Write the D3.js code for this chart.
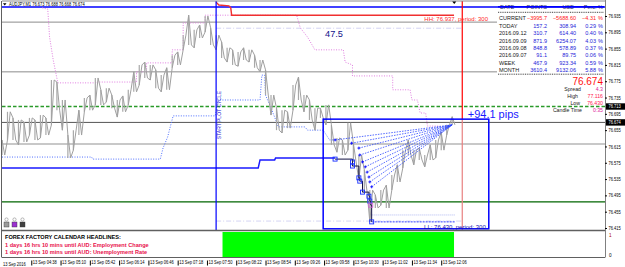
<!DOCTYPE html>
<html>
<head>
<meta charset="utf-8">
<script src="https://cdn.jsdelivr.net/npm/d3@7"></script>
<style>
  body { margin: 0; background: #fff; }
  svg { display: block; }
  text { font-family: "Liberation Sans", Arial, sans-serif; }
  .ax text { font-size: 4.8px; fill: #000; }
  .ax line { stroke: #000; }
</style>
</head>
<body>
<svg id="chart" width="625" height="267"></svg>
<script>
const parseT = d3.timeParse("%H:%M");
const fmtT = d3.timeFormat("%H:%M");
const NARROW = "scale(0.84,1)";

// M1 bars, sampled every 6 minutes from 04:06
const barStart = "04:06";
const barStepMin = 6;
const barHigh = [76.631,76.700,76.685,76.680,76.675,76.685,76.680,76.692,76.685,76.778,
  76.773,76.729,76.643,76.655,76.704,76.734,76.741,76.783,76.754,76.758,
  76.741,76.729,76.739,76.754,76.798,76.815,76.822,76.815,76.803,76.790,
  76.808,76.839,76.847,76.888,76.937,76.901,76.913,76.935,76.906,76.888,
  76.871,76.857,76.852,76.847,76.857,76.852,76.839,76.827,76.803,76.741,
  76.709,76.704,76.700,76.766,76.785,76.741,76.729,76.709,76.709,76.717,
  76.668,76.636,76.631,76.673,76.623,76.594,76.557,76.508,76.496,76.508,
  76.520,76.545,76.570,76.606,76.631,76.606,76.611,76.594,76.619,76.631,
  76.650,76.668,76.688];
const barLow = [76.594,76.631,76.631,76.619,76.626,76.643,76.631,76.636,76.643,76.668,
  76.704,76.655,76.587,76.606,76.643,76.700,76.704,76.717,76.717,76.724,
  76.709,76.687,76.700,76.717,76.749,76.766,76.783,76.778,76.758,76.749,
  76.754,76.808,76.815,76.852,76.864,76.857,76.881,76.896,76.864,76.852,
  76.832,76.822,76.815,76.812,76.827,76.822,76.808,76.798,76.741,76.692,
  76.655,76.648,76.660,76.704,76.729,76.700,76.680,76.655,76.685,76.668,
  76.619,76.601,76.594,76.606,76.577,76.533,76.503,76.430,76.464,76.471,
  76.464,76.508,76.528,76.562,76.594,76.570,76.582,76.565,76.582,76.587,
  76.606,76.643,76.668];

// indicator lines (time, price)
const upperChannel = [["04:50",76.955],["04:56",76.952],["04:58",76.883],["05:02",76.827],["05:07",76.771],
  ["05:50",76.771],["05:50",76.773],["06:33",76.773],["06:33",76.798],["06:44",76.798],["06:44",76.820],
  ["07:12",76.820],["07:12",76.852],["07:24",76.852],["07:24",76.918],["07:48",76.918],["07:48",76.937],
  ["09:28",76.937],["09:32",76.906],["09:40",76.883],["09:48",76.852],["10:19",76.852],["10:21",76.822],
  ["10:29",76.815],["10:29",76.788],["11:13",76.788],["11:13",76.754],["11:32",76.754],["11:34",76.729],
  ["11:40",76.729],["11:43",76.697],["11:49",76.697],["11:51",76.665],["12:05",76.665]];
const lowerChannel = [["04:06",76.589],["05:44",76.589],["05:45",76.584],["06:59",76.584],["07:02",76.611],
  ["07:07",76.638],["07:13",76.690],["07:59",76.690],["08:02",76.729],["08:48",76.729],["08:50",76.790],
  ["08:53",76.790],["08:54",76.741],["09:01",76.704],["09:08",76.663],["09:37",76.663],["09:40",76.655],
  ["09:57",76.655],["10:04",76.631],["10:10",76.631]];
const supportLine = [["04:06",76.562],["08:46",76.562],["08:48",76.582],["09:04",76.582],["09:05",76.587],["10:10",76.587]];
const hhLine = [["08:00",76.969],["08:03",76.962],["08:14",76.960],["08:16",76.955],["08:17",76.937],["12:20",76.937]];

const pivotTimes = ["10:10","10:29","10:29","10:36","10:37","10:40","10:47","10:48","10:49","10:50"];
const pivotPrices = [76.584,76.577,76.567,76.538,76.530,76.503,76.493,76.481,76.471,76.430];
const fanTimes = ["10:10","10:28","10:36","10:37","10:40","10:43","10:45","10:47","10:48","10:50"];
const fanPrices = [76.631,76.623,76.611,76.594,76.577,76.565,76.552,76.540,76.528,76.516];
const fanEnd = ["12:18",76.668];

const hhLevel = 76.937, llLevel = 76.430, llShadow = 76.447;
const llRange = ["10:50","12:21"];
const fiboLevels = [76.905, 76.432];
const fiboRange = ["08:00","12:29"];
const boxTimes = ["09:57","12:58"];
const boxPrices = [76.682, 76.413];
const startTime = "08:00", endTime = "12:29";
const levelPrices = [76.957, 76.920, 76.798, 76.713, 76.674, 76.621, 76.479];
const markedPrices = [76.713, 76.674];

const priceTicks = [76.935,76.895,76.855,76.815,76.775,76.735,76.695,76.655,76.615,76.575,76.535,76.495,76.455,76.415];
const timeTicks = ["04:38","05:10","05:42","06:14","06:46","07:18","07:50","08:22","08:54","09:26","09:58","10:30","11:02","11:34","12:06"];

const subStart = "08:07", subEnd = "12:20";

const rowLabels = ["CURRENT","TODAY","2016.09.12","2016.09.09","2016.09.08","2016.09.07","WEEK","MONTH"];
const rowPoints = [-3995.7,157.2,310.7,871.9,848.8,91.1,467.9,3610.4];
const rowUsd = [-5688.60,308.94,614.40,6254.07,578.89,89.75,923.34,9132.06];
const rowPerc = [-4.31,0.29,0.40,4.03,0.37,0.06,0.59,5.88];
const infoLabels = ["Spread","High","Low","Candle Time"];
const infoValues = ["4.3","77.116","76.430","0:35"];
const headlines = ["1 days 16 hrs 10 mins until AUD: Employment Change",
                   "1 days 16 hrs 10 mins until AUD: Unemployment Rate"];

// ---------- scales ----------
const plotL = 2, plotR = 605, plotT = 1, plotB = 230;
const x = d3.scaleTime().domain([parseT("04:06"), parseT("15:05")]).range([plotL, plotR]);
const y = d3.scaleLinear().domain([76.415, 76.935]).range([228, 16]);
const ySub = d3.scaleLinear().domain([0, 1]).range([257, 232]);
const tx = s => x(parseT(s));

const svg = d3.select("#chart");
svg.append("rect").attr("width", 625).attr("height", 267).attr("fill", "#fff");

svg.append("clipPath").attr("id", "plot")
  .append("rect").attr("x", plotL).attr("y", plotT).attr("width", plotR - plotL).attr("height", plotB - plotT);
const g = svg.append("g").attr("clip-path", "url(#plot)");

// ---------- horizontal levels ----------
const levelStyle = [
  {c: "#0000ff", w: 1.6}, {c: "#8c8c8c", w: 1}, {c: "#8c8c8c", w: 1},
  {c: "#2a9a2a", w: 1.3, d: "3.5,2"}, {c: "#555", w: 1}, {c: "#c8c8c8", w: 1.8}, {c: "#006400", w: 1.2}
];
g.selectAll(".lvl").data(levelPrices).join("line")
  .attr("x1", plotL).attr("x2", plotR)
  .attr("y1", d => y(d)).attr("y2", d => y(d))
  .attr("stroke", (d, i) => levelStyle[i].c)
  .attr("stroke-width", (d, i) => levelStyle[i].w)
  .attr("stroke-dasharray", (d, i) => levelStyle[i].d || null);

// faint dash-dot levels
g.selectAll(".fib").data(fiboLevels).join("line")
  .attr("x1", tx(fiboRange[0])).attr("x2", tx(fiboRange[1]))
  .attr("y1", d => y(d)).attr("y2", d => y(d))
  .attr("stroke", "#c8c8f0").attr("stroke-width", 0.8).attr("stroke-dasharray", "5,2,1,2");

const lineGen = d3.line().x(d => tx(d[0])).y(d => y(d[1]));

// channels
g.append("path").attr("d", lineGen(upperChannel)).attr("fill", "none")
  .attr("stroke", "#e07ee0").attr("stroke-width", 1).attr("stroke-dasharray", "1,1.5");
g.append("path").attr("d", lineGen(lowerChannel)).attr("fill", "none")
  .attr("stroke", "#5070ff").attr("stroke-width", 1).attr("stroke-dasharray", "1,1.5");
g.append("path").attr("d", lineGen(supportLine)).attr("fill", "none")
  .attr("stroke", "#1a1aff").attr("stroke-width", 1.5);

// ---------- price bars ----------
const bars = barHigh.map((h, i) => ({
  t: d3.timeMinute.offset(parseT(barStart), i * barStepMin), h, l: barLow[i]
}));
const zig = [];
bars.forEach((b, i) => {
  const mid = d3.timeMinute.offset(b.t, barStepMin / 2);
  if (i % 2 === 0) { zig.push([x(b.t), y(b.h)], [x(mid), y(b.l)]); }
  else { zig.push([x(b.t), y(b.l)], [x(mid), y(b.h)]); }
});
g.selectAll(".bar").data(bars).join("line")
  .attr("x1", d => x(d.t)).attr("x2", d => x(d.t))
  .attr("y1", d => y(d.h)).attr("y2", d => y(d.l))
  .attr("stroke", "#a8a8a8").attr("stroke-width", 1.2);
g.append("path").attr("d", d3.line()(zig)).attr("fill", "none")
  .attr("stroke", "#a0a0a0").attr("stroke-width", 1);

// ---------- HH / LL ----------
g.append("path").attr("d", lineGen(hhLine)).attr("fill", "none")
  .attr("stroke", "#f03030").attr("stroke-width", 1.4);
g.append("line").attr("x1", tx(llRange[0])).attr("x2", tx(llRange[1]))
  .attr("y1", y(llShadow)).attr("y2", y(llShadow))
  .attr("stroke", "#b0b8f0").attr("stroke-width", 1).attr("stroke-dasharray", "1,1");
g.append("line").attr("x1", tx(llRange[0])).attr("x2", tx(llRange[1]))
  .attr("y1", y(llLevel)).attr("y2", y(llLevel))
  .attr("stroke", "#3040ff").attr("stroke-width", 1).attr("stroke-dasharray", "2,1");

// ---------- vertical lines ----------
g.append("line").attr("x1", tx(startTime)).attr("x2", tx(startTime))
  .attr("y1", plotT).attr("y2", plotB).attr("stroke", "#0000ff").attr("stroke-width", 1.2);
g.append("line").attr("x1", tx(endTime)).attr("x2", tx(endTime))
  .attr("y1", plotT).attr("y2", y(boxPrices[0])).attr("stroke", "#ff0000").attr("stroke-width", 1.2);
g.append("line").attr("x1", tx(endTime)).attr("x2", tx(endTime))
  .attr("y1", y(boxPrices[0])).attr("y2", plotB).attr("stroke", "#e88080").attr("stroke-width", 1.2);

// ---------- box ----------
g.append("rect")
  .attr("x", tx(boxTimes[0])).attr("y", y(boxPrices[0]))
  .attr("width", tx(boxTimes[1]) - tx(boxTimes[0]))
  .attr("height", y(boxPrices[1]) - y(boxPrices[0]))
  .attr("fill", "none").attr("stroke", "#0000ff").attr("stroke-width", 1.5);

// fan lines
g.selectAll(".fan").data(fanTimes).join("line")
  .attr("x1", d => tx(d)).attr("y1", (d, i) => y(fanPrices[i]))
  .attr("x2", tx(fanEnd[0])).attr("y2", y(fanEnd[1]))
  .attr("stroke", "#2844ff").attr("stroke-width", 0.8).attr("stroke-dasharray", "1.5,1.2");
g.selectAll(".plus").data(fanTimes).join("path")
  .attr("d", (d, i) => { const px = tx(d), py = y(fanPrices[i]); return `M${px-1.5},${py}H${px+1.5}M${px},${py-1.5}V${py+1.5}`; })
  .attr("stroke", "#0000ff").attr("stroke-width", 0.8);

// pivot step line + squares
const piv = pivotTimes.map((t, i) => [tx(t), y(pivotPrices[i])]);
g.append("path").attr("d", d3.line().curve(d3.curveStepAfter)(piv)).attr("fill", "none")
  .attr("stroke", "#101040").attr("stroke-width", 1);
g.selectAll(".sq").data(piv).join("rect")
  .attr("x", d => d[0] - 2).attr("y", d => d[1] - 2).attr("width", 4).attr("height", 4)
  .attr("fill", "none").attr("stroke", (d, i) => i === 8 ? "#d060d0" : "#1830ff").attr("stroke-width", 0.9);

// ---------- annotations ----------
g.append("text").attr("x", tx("12:20") + 34).attr("y", y(hhLevel) + 5.5)
  .attr("text-anchor", "end").attr("font-size", 6).attr("fill", "#ff2a2a")
  .text(`HH: ${hhLevel.toFixed(3)}, period: 300`);
g.append("text").attr("x", tx(boxTimes[1]) - 3).attr("y", y(llLevel) + 7)
  .attr("text-anchor", "end").attr("font-size", 6).attr("fill", "#1010b0")
  .text(`LL: ${llLevel.toFixed(3)}, period: 300`);
g.append("text").attr("x", tx("10:10") - 10).attr("y", y(76.891) + 3.5)
  .attr("font-size", 9.2).attr("fill", "#10108c").text("47.5");
g.append("text").attr("x", tx("12:35")).attr("y", y(76.694) + 4)
  .attr("font-size", 11).attr("fill", "#1a1aff").text("+94.1 pips");
g.append("text").attr("transform", `translate(${tx(startTime) + 4.8},${y(76.692)}) rotate(-90)`)
  .attr("text-anchor", "middle").attr("font-size", 5).attr("fill", "#2020d0").text("START PLOT CYCLE");

// ---------- info table ----------
svg.append("rect").attr("x", 497).attr("y", 9).attr("width", 108).attr("height", 67).attr("fill", "#fff");
const hdr = [["DATE", 500, "start"], ["POINTS", 547, "end"], ["USD", 574, "end"], ["Perc. %", 603, "end"]];
svg.selectAll(".hdr").data(hdr).join("text")
  .attr("x", d => d[1]).attr("y", 8.6).attr("text-anchor", d => d[2])
  .attr("font-size", 5.5).attr("fill", "#1a1a60").text(d => d[0]);
svg.append("line").attr("x1", 498).attr("x2", 604).attr("y1", 6.8).attr("y2", 6.8)
  .attr("stroke", "#0000ff").attr("stroke-width", 1.6);
[12.3, 74.2].forEach(v => svg.append("line").attr("x1", 498).attr("x2", 604).attr("y1", v).attr("y2", v)
  .attr("stroke", "#303030").attr("stroke-width", 0.9).attr("stroke-dasharray", "1,0.8"));

const rowG = svg.selectAll(".row").data(rowLabels).join("g")
  .attr("transform", (d, i) => `translate(0,${20.3 + i * 7.4})`);
const rowColor = i => i === 0 ? "#ff2020" : "#2424d8";
rowG.append("text").attr("x", 499).attr("font-size", 5.5).attr("fill", "#202020").text(d => d);
rowG.append("text").attr("x", 547).attr("text-anchor", "end").attr("font-size", 5.5)
  .attr("fill", (d, i) => rowColor(i)).text((d, i) => d3.format(".1f")(rowPoints[i]));
rowG.append("text").attr("x", 576).attr("text-anchor", "end").attr("font-size", 5.5)
  .attr("fill", (d, i) => rowColor(i)).text((d, i) => d3.format(".2f")(rowUsd[i]));
rowG.append("text").attr("x", 596).attr("text-anchor", "end").attr("font-size", 5.5)
  .attr("fill", (d, i) => rowColor(i)).text((d, i) => d3.format(".2f")(rowPerc[i]));
rowG.append("text").attr("x", 603).attr("text-anchor", "end").attr("font-size", 5.5)
  .attr("fill", (d, i) => rowColor(i)).text("%");

svg.append("text").attr("x", 603).attr("y", 85).attr("text-anchor", "end")
  .attr("font-size", 10).attr("fill", "#ff1010").text("76.674");
const infoX = [581, 578, 580, 582];
const infoY = [91, 98, 105, 112];
infoLabels.forEach((lab, i) => {
  svg.append("text").attr("x", infoX[i]).attr("y", infoY[i]).attr("text-anchor", "end")
    .attr("font-size", 5.2).attr("fill", "#202020").text(lab);
  svg.append("text").attr("x", 603).attr("y", infoY[i]).attr("text-anchor", "end")
    .attr("font-size", 5.2).attr("fill", i === 0 || i === 3 ? "#e0209a" : "#ff2050").text(infoValues[i]);
});

// ---------- sub window ----------
svg.append("rect").attr("x", tx(subStart)).attr("y", ySub(1)).attr("width", tx(subEnd) - tx(subStart))
  .attr("height", ySub(0) - ySub(1)).attr("fill", "#00ff00");
svg.append("text").attr("x", 5).attr("y", 239.3).attr("font-size", 5.6).attr("font-weight", "bold")
  .attr("fill", "#000").text("FOREX FACTORY CALENDAR  HEADLINES:");
svg.selectAll(".hl").data(headlines).join("text")
  .attr("x", 5).attr("y", (d, i) => 246.8 + i * 7.2).attr("font-size", 5.6).attr("font-weight", "bold")
  .attr("fill", "#e8104c").text(d => d);

// ---------- frame ----------
svg.append("line").attr("x1", plotL).attr("x2", plotR).attr("y1", 1).attr("y2", 1).attr("stroke", "#8c8c8c");
svg.append("line").attr("x1", plotL).attr("x2", plotR).attr("y1", 230.5).attr("y2", 230.5).attr("stroke", "#606060").attr("stroke-width", 1.4);
svg.append("line").attr("x1", plotL).attr("x2", plotR).attr("y1", 257.5).attr("y2", 257.5).attr("stroke", "#606060");
svg.append("line").attr("x1", plotL - 0.5).attr("x2", plotL - 0.5).attr("y1", 1).attr("y2", 257.5).attr("stroke", "#606060");
svg.append("line").attr("x1", plotR + 0.5).attr("x2", plotR + 0.5).attr("y1", 0).attr("y2", 257.5).attr("stroke", "#808080");

// top markers
svg.append("path").attr("d", "M3,3.2L6.5,3.2L4.75,5.5Z").attr("fill", "#000");
svg.append("path").attr("d", `M${tx(endTime) - 10},1.5L${tx(endTime) - 6},1.5L${tx(endTime) - 8},4Z`).attr("fill", "#000");
svg.append("text").attr("transform", `translate(9,5.8) ${NARROW}`).attr("font-size", 4.8)
  .text("AUDJPY,M1  76.673 76.688 76.668 76.674");

// small buttons
[4, 12, 20].forEach((bx, i) => {
  svg.append("circle").attr("cx", bx + 2.5).attr("cy", 219.5).attr("r", 1.6).attr("fill", "none").attr("stroke", "#888").attr("stroke-width", 0.6);
  svg.append("rect").attr("x", bx).attr("y", 222).attr("width", 5).attr("height", 5)
    .attr("fill", ["#9a9a9a", "#9b30d0", "#404040"][i]).attr("stroke", "#333").attr("stroke-width", 0.4);
});

// ---------- axes ----------
const yAxis = svg.append("g").attr("class", "ax").attr("transform", `translate(${plotR},0)`)
  .call(d3.axisRight(y).tickValues(priceTicks).tickFormat(d3.format(".3f")).tickSize(2).tickPadding(1.5));
yAxis.select(".domain").remove();
yAxis.selectAll(".tick text").attr("x", 0).attr("transform", `translate(3.5,0) ${NARROW}`);

const mark = svg.selectAll(".mk").data(markedPrices).join("g").attr("transform", d => `translate(${plotR + 1},${y(d)})`);
mark.append("rect").attr("x", 0).attr("y", -3.2).attr("width", 19).attr("height", 6.4).attr("fill", "#000");
mark.append("text").attr("transform", `translate(2.5,1.8) ${NARROW}`).attr("font-size", 4.8)
  .attr("fill", "#fff").text(d => d.toFixed(3));

svg.append("text").attr("x", 609).attr("y", ySub(1) + 4.5).attr("font-size", 4.6).attr("fill", "#a00").text("1");
svg.append("text").attr("x", 609).attr("y", ySub(0) - 0.5).attr("font-size", 4.6).attr("fill", "#000").text("0");

const xAxis = svg.append("g").attr("class", "ax").attr("transform", "translate(0,257.5)")
  .call(d3.axisBottom(x).tickValues(timeTicks.map(parseT)).tickFormat(d => "13 Sep " + fmtT(d)).tickSize(0));
xAxis.select(".domain").remove();
xAxis.selectAll(".tick text").attr("text-anchor", "start").attr("x", 0).attr("y", 0)
  .attr("dy", "0.71em").attr("transform", `translate(1,3.3) ${NARROW}`);
xAxis.selectAll(".tick line").attr("y1", 3).attr("y2", 8);
svg.append("text").attr("transform", `translate(${tx(barStart) + 1},265.5) ${NARROW}`)
  .attr("font-size", 4.8).text("13 Sep 2016");
</script>
</body>
</html>
